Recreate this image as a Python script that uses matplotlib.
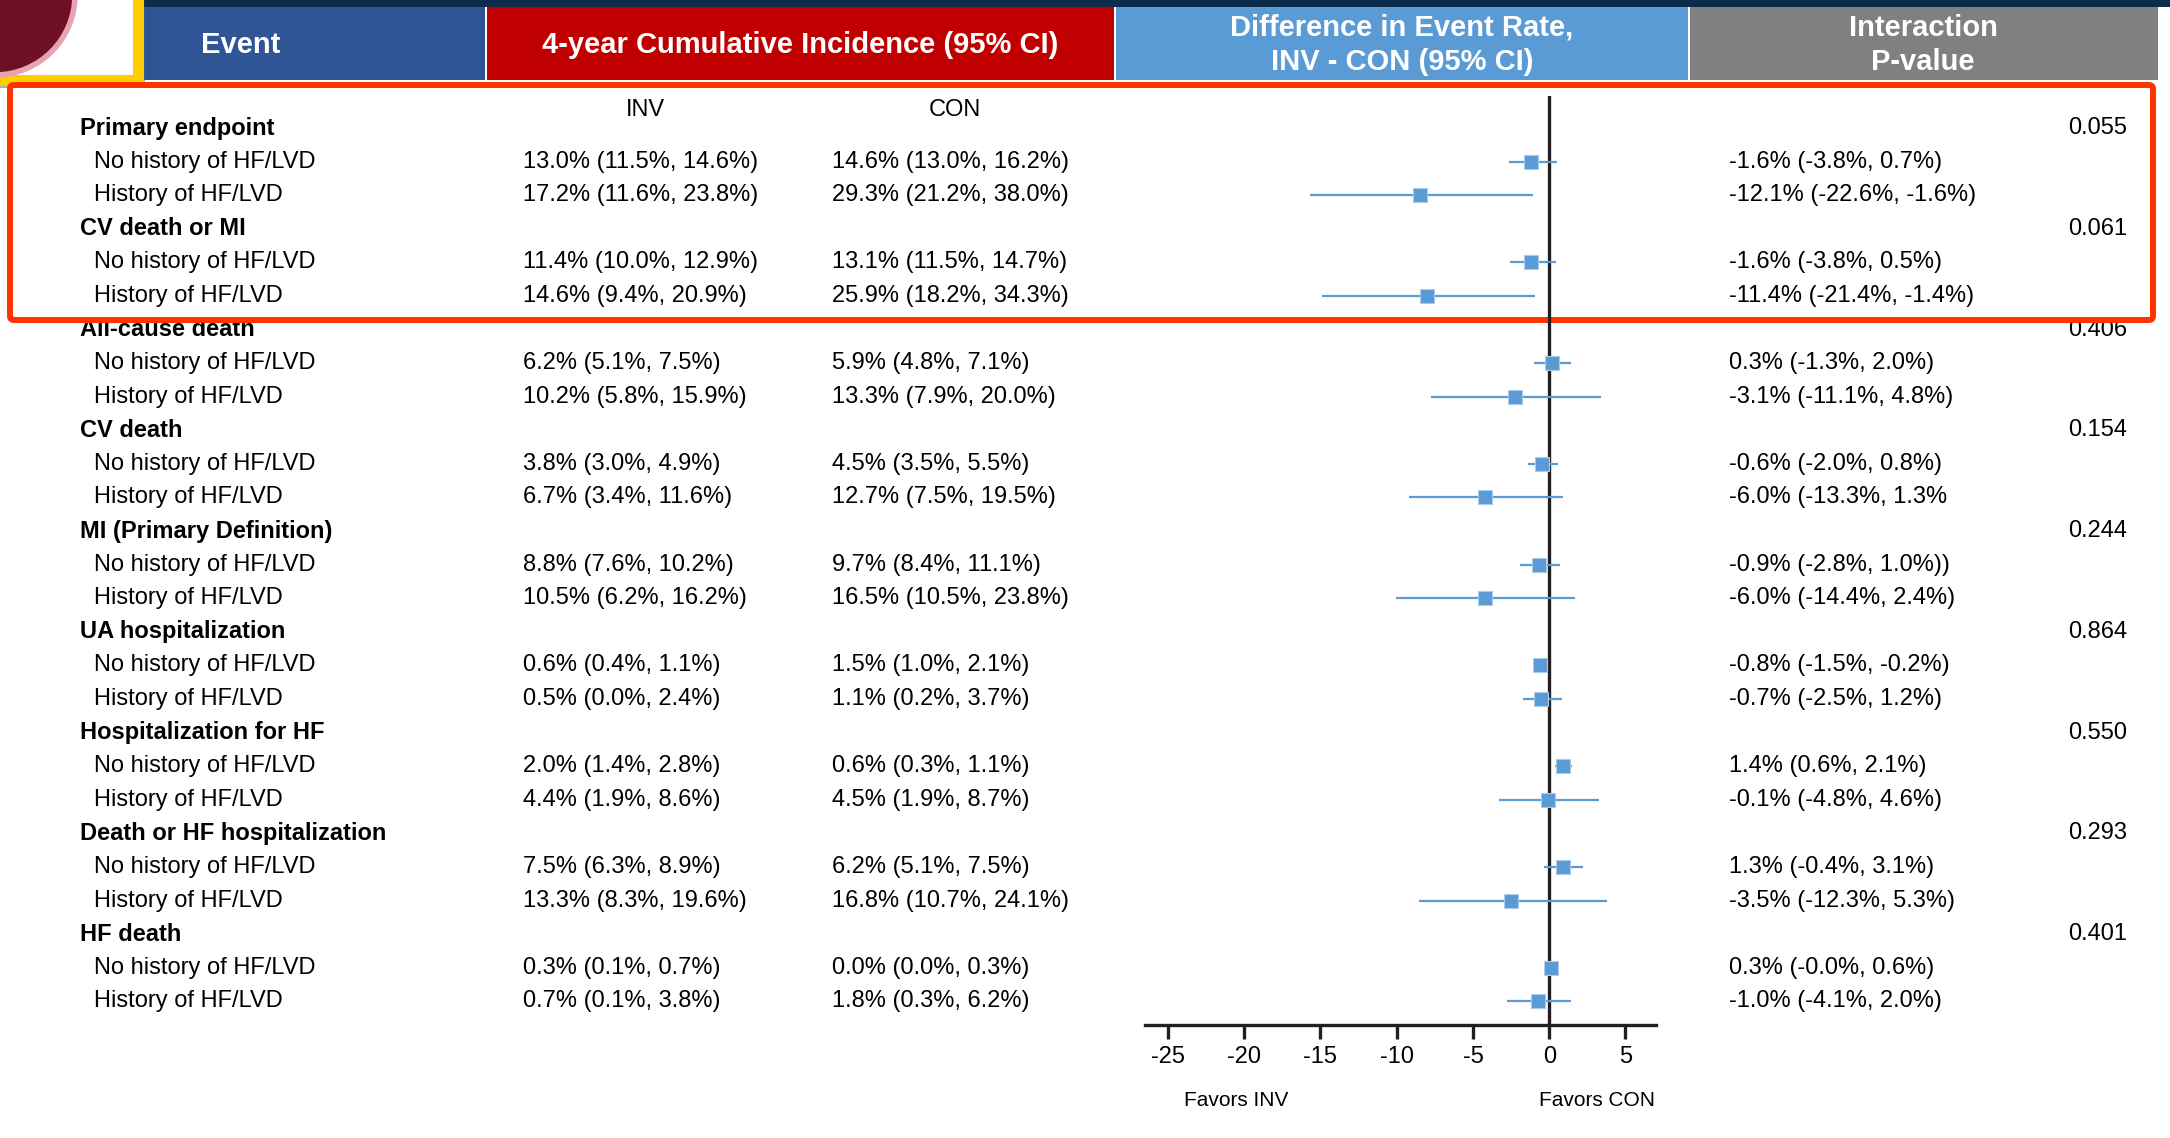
import matplotlib.pyplot as plt
from matplotlib.patches import Rectangle, Circle, FancyBboxPatch

plt.rcParams['font.family'] = ['Liberation Sans', 'DejaVu Sans']

# ===== DADOS =====
grupos = ["Primary endpoint", "CV death or MI", "All-cause death", "CV death",
          "MI (Primary Definition)", "UA hospitalization", "Hospitalization for HF",
          "Death or HF hospitalization", "HF death"]
sub_no = "No history of HF/LVD"
sub_hist = "History of HF/LVD"

inv_no = ["13.0% (11.5%, 14.6%)", "11.4% (10.0%, 12.9%)", "6.2% (5.1%, 7.5%)",
          "3.8% (3.0%, 4.9%)", "8.8% (7.6%, 10.2%)", "0.6% (0.4%, 1.1%)",
          "2.0% (1.4%, 2.8%)", "7.5% (6.3%, 8.9%)", "0.3% (0.1%, 0.7%)"]
inv_hist = ["17.2% (11.6%, 23.8%)", "14.6% (9.4%, 20.9%)", "10.2% (5.8%, 15.9%)",
            "6.7% (3.4%, 11.6%)", "10.5% (6.2%, 16.2%)", "0.5% (0.0%, 2.4%)",
            "4.4% (1.9%, 8.6%)", "13.3% (8.3%, 19.6%)", "0.7% (0.1%, 3.8%)"]
con_no = ["14.6% (13.0%, 16.2%)", "13.1% (11.5%, 14.7%)", "5.9% (4.8%, 7.1%)",
          "4.5% (3.5%, 5.5%)", "9.7% (8.4%, 11.1%)", "1.5% (1.0%, 2.1%)",
          "0.6% (0.3%, 1.1%)", "6.2% (5.1%, 7.5%)", "0.0% (0.0%, 0.3%)"]
con_hist = ["29.3% (21.2%, 38.0%)", "25.9% (18.2%, 34.3%)", "13.3% (7.9%, 20.0%)",
            "12.7% (7.5%, 19.5%)", "16.5% (10.5%, 23.8%)", "1.1% (0.2%, 3.7%)",
            "4.5% (1.9%, 8.7%)", "16.8% (10.7%, 24.1%)", "1.8% (0.3%, 6.2%)"]
dif_no = ["-1.6% (-3.8%, 0.7%)", "-1.6% (-3.8%, 0.5%)", "0.3% (-1.3%, 2.0%)",
          "-0.6% (-2.0%, 0.8%)", "-0.9% (-2.8%, 1.0%))", "-0.8% (-1.5%, -0.2%)",
          "1.4% (0.6%, 2.1%)", "1.3% (-0.4%, 3.1%)", "0.3% (-0.0%, 0.6%)"]
dif_hist = ["-12.1% (-22.6%, -1.6%)", "-11.4% (-21.4%, -1.4%)", "-3.1% (-11.1%, 4.8%)",
            "-6.0% (-13.3%, 1.3%", "-6.0% (-14.4%, 2.4%)", "-0.7% (-2.5%, 1.2%)",
            "-0.1% (-4.8%, 4.6%)", "-3.5% (-12.3%, 5.3%)", "-1.0% (-4.1%, 2.0%)"]
p_valores = ["0.055", "0.061", "0.406", "0.154", "0.244", "0.864", "0.550", "0.293", "0.401"]

# pontos do forest plot, ordem: sem historia, com historia
est_no = [-1.17, -1.17, 0.18, -0.46, -0.68, -0.59, 0.90, 0.90, 0.11]
lo_no = [-2.65, -2.58, -0.98, -1.40, -1.90, -0.95, 0.40, -0.33, -0.10]
hi_no = [0.49, 0.44, 1.40, 0.57, 0.70, -0.10, 1.49, 2.19, 0.30]
est_hist = [-8.46, -7.98, -2.23, -4.22, -4.22, -0.54, -0.11, -2.51, -0.74]
lo_hist = [-15.7, -14.9, -7.72, -9.22, -10.07, -1.75, -3.30, -8.56, -2.80]
hi_hist = [-1.07, -0.90, 3.39, 0.92, 1.71, 0.85, 3.26, 3.77, 1.42]

ticks = [-25, -20, -15, -10, -5, 0, 5]

# ===== LAYOUT =====
W, H = 2170, 1138
fig = plt.figure(figsize=(W / 100, H / 100), dpi=100)
ax = fig.add_axes([0, 0, 1, 1])
ax.set_xlim(0, W)
ax.set_ylim(H, 0)
ax.axis("off")

y0, passo = 128, 33.59
fs = 17
azul_ponto = "#5B9BD5"

# logo no canto
ax.add_patch(Rectangle((-20, -20), 165, 108, facecolor="#b0b0b0", edgecolor="none", zorder=1))
ax.add_patch(Rectangle((-20, -20), 158, 100, facecolor="white", edgecolor="#FFCC00", lw=8, zorder=2))
ax.add_patch(Circle((-5, -5), 80, facecolor="#6E1025", edgecolor="#E7A3B3", lw=4, zorder=3))

# cabecalho
ax.add_patch(Rectangle((140, 0), W - 140, 7, facecolor="#0B2D4B", edgecolor="none"))
caixas = [(144, 485, "#2F5597"), (487, 1114, "#C00000"),
          (1116, 1688, azul_ponto), (1690, 2158, "#808080")]
for xa, xb, cor in caixas:
    ax.add_patch(Rectangle((xa, 7), xb - xa, 73, facecolor=cor, edgecolor="none"))
hk = dict(color="white", fontsize=21, fontweight="bold", ha="center", va="center")
ax.text(241, 45, "Event", **hk)
ax.text(800, 45, "4-year Cumulative Incidence (95% CI)", **hk)
ax.text(1402, 45, "Difference in Event Rate,\nINV - CON (95% CI)", linespacing=1.3, **hk)
ax.text(1923, 45, "Interaction\nP-value", linespacing=1.3, **hk)

ax.text(645, 110, "INV", fontsize=fs, ha="center", va="center")
ax.text(955, 110, "CON", fontsize=fs, ha="center", va="center")

# tabela
for i, g in enumerate(grupos):
    yg = y0 + passo * 3 * i
    y1 = yg + passo
    y2 = yg + 2 * passo
    ax.text(80, yg, g, fontsize=fs, fontweight="bold", va="center")
    ax.text(2127, yg, p_valores[i], fontsize=fs, ha="right", va="center")
    ax.text(94, y1, sub_no, fontsize=fs, va="center")
    ax.text(94, y2, sub_hist, fontsize=fs, va="center")
    ax.text(523, y1, inv_no[i], fontsize=fs, va="center")
    ax.text(523, y2, inv_hist[i], fontsize=fs, va="center")
    ax.text(832, y1, con_no[i], fontsize=fs, va="center")
    ax.text(832, y2, con_hist[i], fontsize=fs, va="center")
    ax.text(1729, y1, dif_no[i], fontsize=fs, va="center")
    ax.text(1729, y2, dif_hist[i], fontsize=fs, va="center")

ax.text(1236, 1101, "Favors INV", fontsize=15, ha="center", va="center")
ax.text(1597, 1101, "Favors CON", fontsize=15, ha="center", va="center")

# ===== FOREST PLOT =====
fx0, fx1, fy0, fy1 = 1145, 1656, 96, 1025
axf = fig.add_axes([fx0 / W, (H - fy1) / H, (fx1 - fx0) / W, (fy1 - fy0) / H])
axf.set_xlim(-26.5, 7.0)
axf.set_ylim(fy1, fy0)
axf.patch.set_alpha(0)
for s in ["top", "right", "left"]:
    axf.spines[s].set_visible(False)
axf.spines["bottom"].set_linewidth(2.4)
axf.spines["bottom"].set_color("#231F20")
axf.set_yticks([])
axf.set_xticks(ticks)
axf.set_xticklabels([str(t) for t in ticks])
axf.tick_params(axis="x", direction="out", length=10, width=2.4, color="#231F20",
                labelsize=17, pad=5)
axf.axvline(0, color="#231F20", lw=2.4, zorder=2)

ys_no = [y0 + passo * (3 * i + 1) for i in range(len(grupos))]
ys_hist = [y0 + passo * (3 * i + 2) for i in range(len(grupos))]
for ys, est, lo, hi in [(ys_no, est_no, lo_no, hi_no), (ys_hist, est_hist, lo_hist, hi_hist)]:
    for y, e, a, b in zip(ys, est, lo, hi):
        axf.plot([a, b], [y, y], color=azul_ponto, lw=1.6, zorder=3, solid_capstyle="butt")
        axf.plot(e, y, marker="s", ms=10.5, color=azul_ponto, mec="#A9CBEA", mew=0.8, zorder=4)

# destaque vermelho por cima
ax.add_patch(FancyBboxPatch((10, 85), 2143, 235, boxstyle="round,pad=0,rounding_size=4",
                            facecolor="none", edgecolor="#FF3300", lw=4.3, zorder=10))

fig.savefig("out.png", dpi=100)
